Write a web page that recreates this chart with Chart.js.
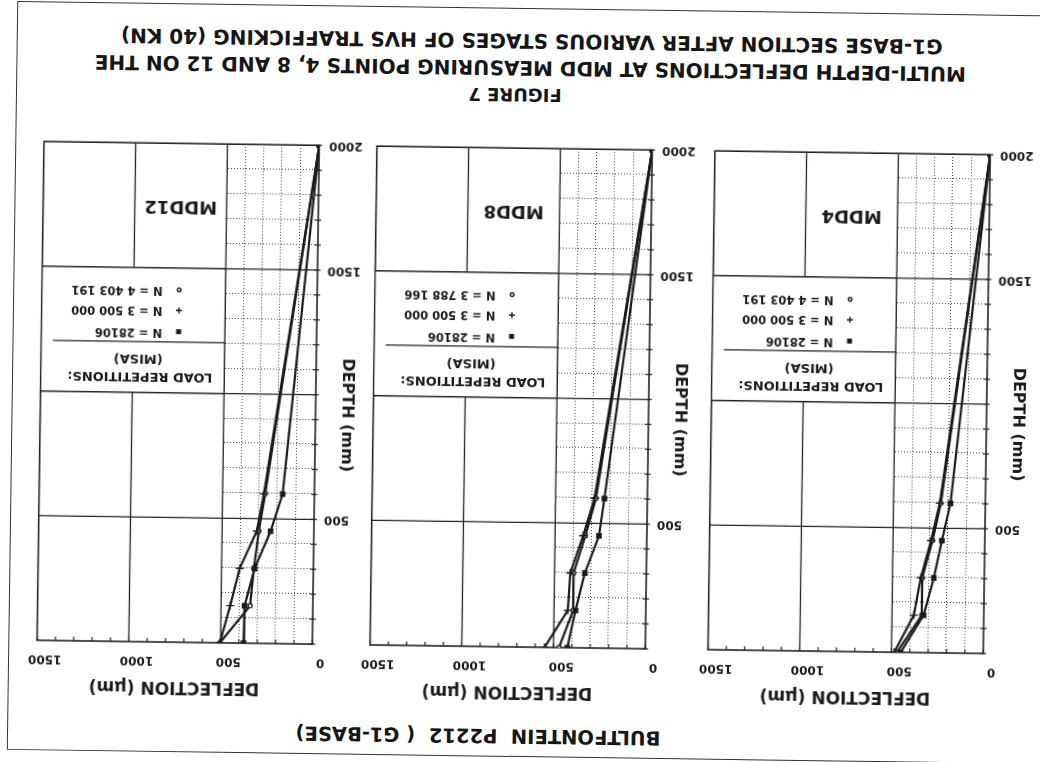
<!DOCTYPE html>
<html>
<head>
<meta charset="utf-8">
<script src="https://cdn.jsdelivr.net/npm/chart.js@4.4.1/dist/chart.umd.min.js"></script>
<style>
  html, body { margin: 0; padding: 0; background: #fff; overflow: hidden; }
  #page {
    position: relative; width: 1040px; height: 762px;
    transform: rotate(180.8deg); transform-origin: 50% 50%;
    font-family: "DejaVu Sans", sans-serif; font-weight: bold; color: #161616;
  }
  .cap { position: absolute; white-space: nowrap; transform: translate(-50%, -50%); }
  canvas { position: absolute; top: 55px; }
  #frame { position: absolute; left: -20px; top: 5px; width: 1046px; height: 747px; border: 1.5px solid #333; }
</style>
</head>
<body>
<div id="page">
  <div id="frame"></div>
  <div class="cap" style="left:557px; top:26px; font-size:19.5px;">BULTFONTEIN&nbsp; P2212 &nbsp;( G1-BASE)</div>
  <canvas id="mdd4" width="353" height="576" style="left:3px"></canvas>
  <canvas id="mdd8" width="353" height="576" style="left:341px"></canvas>
  <canvas id="mdd12" width="353" height="576" style="left:674px"></canvas>
  <div class="cap" style="left:529px; top:667px; font-size:18px;">FIGURE 7</div>
  <div class="cap" style="left:514px; top:694px; font-size:20px;">MULTI-DEPTH DEFLECTIONS AT MDD MEASURING POINTS 4, 8 AND 12 ON THE</div>
  <div class="cap" style="left:513px; top:721px; font-size:20px;">G1-BASE SECTION AFTER VARIOUS STAGES OF HVS TRAFFICKING (40 KN)</div>
</div>

<script>
// depth of each MDD module (mm), same for every series
const depths = [0, 150, 300, 450, 600, 2000];
const depthTickLabels = [500, 1500, 2000];
const deflTicks = [0, 500, 1000, 1500];

const labelsA = ['N = 28106', 'N = 3 500 000', 'N = 4 403 191'];
const labelsMdd8 = ['N = 28106', 'N = 3 500 000', 'N = 3 788 166'];

// deflections (micron), in the order of depths
const mdd4N1 = [450, 328, 275, 234, 190, 0];
const mdd4N2 = [485, 381, 346, 293, 248, 0];
const mdd4N3 = [470, 338, 338, 285, 242, 0];

const mdd8N1 = [425, 383, 335, 261, 234, 0];
const mdd8N2 = [549, 425, 414, 347, 288, 0];
const mdd8N3 = [470, 396, 396, 335, 280, 0];

const mdd12N1 = [375, 372, 320, 236, 173, 0];
const mdd12N2 = [504, 450, 401, 311, 275, 0];
const mdd12N3 = [504, 342, 324, 300, 268, 0];

const INK = '#1a1a1a';
const FONT = 'DejaVu Sans';
const markers = ['rect', 'cross', 'circle'];
const radii = [3, 4, 2];

// grid, frame, legend box and panel name, all from the chart scales
const panelGrid = {
  id: 'panelGrid',
  beforeDatasetsDraw(chart, args, opts) {
    const { ctx, chartArea: a, scales: { x, y } } = chart;
    ctx.save();

    // dotted grid in the 0-500 micron band
    ctx.strokeStyle = '#444';
    ctx.lineWidth = 1;
    ctx.setLineDash([1, 2]);
    for (let v = 100; v < 500; v += 100) {
      const px = Math.round(x.getPixelForValue(v)) + 0.5;
      ctx.beginPath(); ctx.moveTo(px, a.top); ctx.lineTo(px, a.bottom); ctx.stroke();
    }
    for (let d = 100; d < 2000; d += 100) {
      if (d % 500 === 0) continue;
      const py = Math.round(y.getPixelForValue(d)) + 0.5;
      ctx.beginPath(); ctx.moveTo(x.getPixelForValue(0), py); ctx.lineTo(x.getPixelForValue(500), py); ctx.stroke();
    }
    ctx.setLineDash([]);

    // solid grid
    ctx.strokeStyle = '#222';
    ctx.lineWidth = 1.3;
    [500, 1000].forEach(v => {
      const px = x.getPixelForValue(v);
      ctx.beginPath(); ctx.moveTo(px, a.top); ctx.lineTo(px, a.bottom); ctx.stroke();
    });
    [500, 1000, 1500].forEach(d => {
      const py = y.getPixelForValue(d);
      ctx.beginPath(); ctx.moveTo(a.left, py); ctx.lineTo(a.right, py); ctx.stroke();
    });

    // tick marks
    ctx.lineWidth = 1.2;
    for (let v = 0; v <= 1500; v += 100) {
      const px = x.getPixelForValue(v);
      ctx.beginPath(); ctx.moveTo(px, a.top); ctx.lineTo(px, a.top + 4); ctx.stroke();
    }
    for (let d = 0; d <= 2000; d += 100) {
      const py = y.getPixelForValue(d);
      ctx.beginPath(); ctx.moveTo(a.left - 3, py); ctx.lineTo(a.left + 3, py); ctx.stroke();
    }

    // frame
    ctx.lineWidth = 1.6;
    ctx.strokeRect(a.left, a.top, a.right - a.left, a.bottom - a.top);

    // legend box
    const lx = x.getPixelForValue(500), rx = x.getPixelForValue(1500);
    const ty = y.getPixelForValue(1000), by = y.getPixelForValue(1500);
    const w = rx - lx, h = by - ty;
    ctx.fillStyle = '#fff';
    ctx.fillRect(lx, ty, w, h);
    ctx.lineWidth = 1.3;
    ctx.strokeRect(lx, ty, w, h);
    ctx.beginPath(); ctx.moveTo(lx, ty + 0.407 * h); ctx.lineTo(lx + 0.937 * w, ty + 0.407 * h); ctx.stroke();

    ctx.fillStyle = INK;
    ctx.textAlign = 'center';
    ctx.textBaseline = 'middle';
    ctx.font = 'bold 13px "' + FONT + '"';
    ctx.fillText('LOAD REPETITIONS:', lx + 0.46 * w, ty + 0.133 * h);
    ctx.fillText('(MISA)', lx + 0.47 * w, ty + 0.274 * h);

    ctx.font = 'bold 11.5px "' + FONT + '"';
    ctx.textAlign = 'left';
    const rows = [0.49, 0.66, 0.825];
    opts.labels.forEach((t, i) => {
      const my = ty + rows[i] * h, mx = lx + 0.252 * w;
      ctx.fillText(t, lx + 0.342 * w, my);
      ctx.lineWidth = 1.4;
      ctx.strokeStyle = INK;
      if (i === 0) ctx.fillRect(mx - 2.5, my - 2.5, 5, 5);
      if (i === 1) {
        ctx.beginPath(); ctx.moveTo(mx - 3, my); ctx.lineTo(mx + 3, my);
        ctx.moveTo(mx, my - 3); ctx.lineTo(mx, my + 3); ctx.stroke();
      }
      if (i === 2) { ctx.beginPath(); ctx.arc(mx, my, 1.8, 0, Math.PI * 2); ctx.stroke(); }
    });

    // panel name
    ctx.textAlign = 'center';
    ctx.font = 'bold 18px "' + FONT + '"';
    ctx.fillText(opts.name, x.getPixelForValue(750), y.getPixelForValue(1750));

    // depth axis title, in the tick label column
    ctx.save();
    ctx.translate(a.left - 31, y.getPixelForValue(920));
    ctx.rotate(-Math.PI / 2);
    ctx.font = 'bold 16px "' + FONT + '"';
    ctx.fillText('DEPTH (mm)', 0, 0);
    ctx.restore();

    ctx.restore();
  }
};

function makePanel(id, name, labels, series) {
  new Chart(document.getElementById(id), {
    type: 'scatter',
    data: {
      datasets: series.map((vals, i) => ({
        label: labels[i],
        data: depths.map((d, k) => ({ x: vals[k], y: d })),
        showLine: true,
        borderColor: INK,
        borderWidth: 2.2,
        pointStyle: markers[i],
        pointRadius: radii[i],
        pointBackgroundColor: i === 2 ? '#fff' : INK,
        pointBorderColor: INK,
        pointBorderWidth: 1.4
      }))
    },
    options: {
      responsive: false,
      animation: false,
      devicePixelRatio: 1,
      layout: { padding: { left: 0, top: 0, right: 24, bottom: 11 } },
      plugins: {
        legend: { display: false },
        tooltip: { enabled: false },
        panelGrid: { name, labels }
      },
      scales: {
        x: {
          type: 'linear', position: 'top', min: 0, max: 1500,
          afterFit: s => { s.height = 60; },
          afterBuildTicks: s => { s.ticks = deflTicks.map(v => ({ value: v })); },
          grid: { display: false, drawTicks: false },
          border: { display: false },
          ticks: {
            labelOffset: -8, padding: 11, color: INK, callback: v => String(v),
            font: { family: FONT, weight: 'bold', size: 12 }
          },
          title: {
            display: true, text: 'DEFLECTION (µm)', color: INK,
            font: { family: FONT, weight: 'bold', size: 17 }, padding: { top: 5, bottom: 0 }
          }
        },
        y: {
          type: 'linear', position: 'left', reverse: true, min: 0, max: 2000,
          afterFit: s => { s.width = 50; },
          afterBuildTicks: s => { s.ticks = depthTickLabels.map(v => ({ value: v })); },
          grid: { display: false, drawTicks: false },
          border: { display: false },
          ticks: {
            padding: 10, color: INK, callback: v => String(v),
            font: { family: FONT, weight: 'bold', size: 12 }
          }
        }
      }
    },
    plugins: [panelGrid]
  });
}

makePanel('mdd4', 'MDD4', labelsA, [mdd4N1, mdd4N2, mdd4N3]);
makePanel('mdd8', 'MDD8', labelsMdd8, [mdd8N1, mdd8N2, mdd8N3]);
makePanel('mdd12', 'MDD12', labelsA, [mdd12N1, mdd12N2, mdd12N3]);
</script>
</body>
</html>
